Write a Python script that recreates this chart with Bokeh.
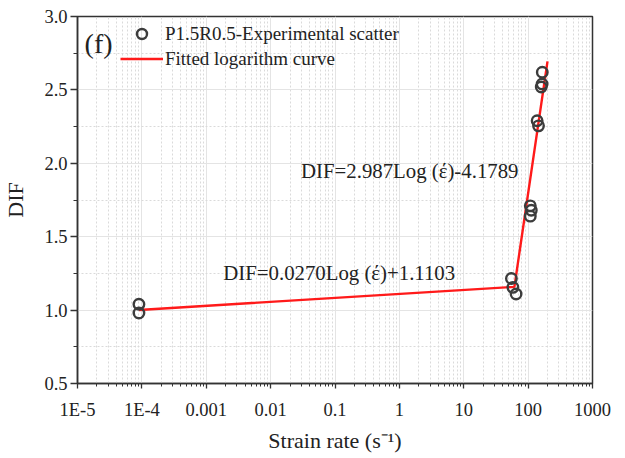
from bokeh.plotting import figure
from bokeh.models import (FixedTicker, CustomJSTickFormatter, Legend, LegendItem, Label, ColumnDataSource)
from bokeh.embed import file_html
from bokeh.resources import INLINE
import numpy as np

# Experimental scatter (strain rate in s^-1, DIF)
rate = [9e-5, 9e-5, 55, 58, 65, 108, 112, 108, 138, 145, 166, 165, 160]
dif = [1.04, 0.98, 1.215, 1.155, 1.11, 1.71, 1.68, 1.64, 2.29, 2.255, 2.62, 2.54, 2.52]

# Fitted logarithm curves: DIF = a*log10(rate) + b
fit_low = [0.0270, 1.1103]
fit_high = [2.987, -4.1789]
fit_start = 9e-5
fit_end = 200

x_ticks = [1e-5, 1e-4, 1e-3, 1e-2, 1e-1, 1, 10, 100, 1000]
x_tick_labels = ["1E-5", "1E-4", "0.001", "0.01", "0.1", "1", "10", "100", "1000"]
y_ticks = [0.5, 1.0, 1.5, 2.0, 2.5, 3.0]
y_minor = [0.75, 1.25, 1.75, 2.25, 2.75]

FONT = "Liberation Serif"
INK = "#222222"

p = figure(width=625, height=458, x_axis_type="log", x_range=(1e-5, 1000), y_range=(0.5, 3.0),
           output_backend="svg", toolbar_location=None,
           min_border_left=76, min_border_right=33, min_border_top=16, min_border_bottom=75)
p.background_fill_color = "white"
p.border_fill_color = "white"
p.outline_line_color = "#333333"
p.outline_line_width = 1.5

# axes
x_minor = [m * 10.0 ** e for e in range(-5, 3) for m in range(2, 10)]
p.xaxis.ticker = FixedTicker(ticks=x_ticks, minor_ticks=x_minor)
p.xaxis.formatter = CustomJSTickFormatter(args=dict(labels=x_tick_labels), code="""
    const i = Math.round(Math.log10(tick)) + 5;
    return labels[i];
""")
p.yaxis.ticker = FixedTicker(ticks=y_ticks, minor_ticks=y_minor)
p.yaxis.formatter = CustomJSTickFormatter(code="return tick.toFixed(1);")

for ax in (p.xaxis, p.yaxis):
    ax.axis_line_color = "#333333"
    ax.axis_line_width = 1.5
    ax.major_tick_line_color = "#333333"
    ax.minor_tick_line_color = "#333333"
    ax.major_tick_line_width = 1.3
    ax.minor_tick_line_width = 1
    ax.major_label_text_font = FONT
    ax.major_label_text_font_size = "18.5px"
    ax.major_label_text_color = INK
    ax.axis_label_text_font = FONT
    ax.axis_label_text_font_size = "22px"
    ax.axis_label_text_font_style = "normal"
    ax.axis_label_text_color = INK

p.xaxis.major_tick_out = 5
p.xaxis.major_tick_in = 0
p.xaxis.minor_tick_out = 3
p.xaxis.minor_tick_in = 0
p.yaxis.major_tick_out = 7
p.yaxis.major_tick_in = 0
p.yaxis.minor_tick_out = 4
p.yaxis.minor_tick_in = 0
p.xaxis.major_label_standoff = 11
p.yaxis.major_label_standoff = 3
p.xaxis.axis_label = "Strain rate (s\u207b\u00b9)"
p.yaxis.axis_label = "DIF"
p.xaxis.axis_label_standoff = 5
p.yaxis.axis_label_standoff = 13

# grid
p.xgrid.ticker = p.xaxis.ticker
p.ygrid.ticker = p.yaxis.ticker
for g in (p.xgrid, p.ygrid):
    g.grid_line_color = "#e4e4e4"
    g.grid_line_width = 1
    g.minor_grid_line_color = "#dadada"
    g.minor_grid_line_dash = "2 2"
    g.minor_grid_line_width = 1

# fitted lines (from the stated equations)
x_break = 10 ** ((fit_low[1] - fit_high[1]) / (fit_high[0] - fit_low[0]))
lx1 = np.array([fit_start, x_break])
lx2 = np.array([x_break, fit_end])
ly1 = fit_low[0] * np.log10(lx1) + fit_low[1]
ly2 = fit_high[0] * np.log10(lx2) + fit_high[1]
r_line = p.line(np.concatenate([lx1, lx2[1:]]), np.concatenate([ly1, ly2[1:]]),
                line_color="#ff1a1a", line_width=2.4)

src = ColumnDataSource(dict(x=rate, y=dif))
r_pts = p.scatter("x", "y", source=src, marker="circle", size=10.5,
                  fill_color=None, line_color="#3c3c3c", line_width=2.4)

legend = Legend(items=[LegendItem(label="P1.5R0.5-Experimental scatter", renderers=[r_pts]),
                       LegendItem(label="Fitted logarithm curve", renderers=[r_line])],
                location=(43, 312), orientation="vertical")
legend.background_fill_alpha = 0
legend.border_line_color = None
legend.padding = 0
legend.margin = 0
legend.spacing = 0
legend.label_height = 25
legend.glyph_height = 25
legend.glyph_width = 43
legend.label_standoff = 2
legend.label_text_font = FONT
legend.label_text_font_size = "19px"
legend.label_text_color = INK
p.add_layout(legend)

p.add_layout(Label(x=1.29e-5, y=2.815, text="(f)", text_font=FONT, text_font_size="28px",
                   text_color=INK, text_baseline="middle"))
p.add_layout(Label(x=0.0297, y=1.95, text="DIF=2.987Log (\u03ad)-4.1789", text_font=FONT,
                   text_font_size="20.8px", text_color=INK, text_baseline="middle"))
p.add_layout(Label(x=0.00184, y=1.256, text="DIF=0.0270Log (\u03ad)+1.1103", text_font=FONT,
                   text_font_size="20.8px", text_color=INK, text_baseline="middle"))

open("out.html", "w").write(file_html(p, INLINE))
